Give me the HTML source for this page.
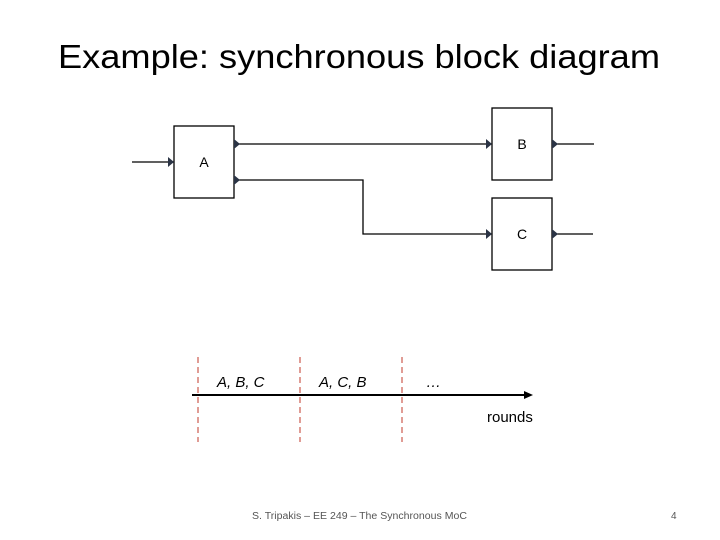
<!DOCTYPE html>
<html><head><meta charset="utf-8"><style>
body{margin:0;width:720px;height:540px;background:#fff;overflow:hidden}
svg{display:block}
text{font-family:"Liberation Sans",sans-serif}
</style></head><body>
<svg width="720" height="540" viewBox="0 0 720 540">
<text x="58" y="68" font-size="33" textLength="602" lengthAdjust="spacingAndGlyphs" fill="#000">Example: synchronous block diagram</text>
<g stroke="#000" stroke-width="1.3" fill="none">
<rect x="174" y="126" width="60" height="72"/>
<rect x="492" y="108" width="60" height="72"/>
<rect x="492" y="198" width="60" height="72"/>
<line x1="132" y1="162" x2="174" y2="162"/>
<line x1="234" y1="144" x2="492" y2="144"/>
<polyline points="234,180 363,180 363,234 492,234"/>
<line x1="552" y1="144" x2="594" y2="144"/>
<line x1="552" y1="234" x2="593" y2="234"/>
</g>
<g fill="#2b3445">
<polygon points="168,157 174,162 168,167"/>
<polygon points="234,139 240,144 234,149"/>
<polygon points="234,175 240,180 234,185"/>
<polygon points="486,139 492,144 486,149"/>
<polygon points="486,229 492,234 486,239"/>
<polygon points="552,139 558,144 552,149"/>
<polygon points="552,229 558,234 552,239"/>
</g>
<g font-size="14" text-anchor="middle" fill="#000">
<text x="204" y="167">A</text><text x="522" y="149">B</text><text x="522" y="239">C</text>
</g>
<g stroke="#c0392b" stroke-width="1" stroke-dasharray="6,4">
<line x1="198" y1="357" x2="198" y2="442"/>
<line x1="300" y1="357" x2="300" y2="442"/>
<line x1="402" y1="357" x2="402" y2="442"/>
</g>
<line x1="192" y1="395" x2="526" y2="395" stroke="#000" stroke-width="2"/>
<polygon points="524,391 533,395 524,399" fill="#000"/>
<g font-size="15" font-style="italic" fill="#000">
<text x="217" y="387">A, B, C</text><text x="319" y="387">A, C, B</text><text x="426" y="387">…</text>
</g>
<text x="487" y="422" font-size="15" fill="#000">rounds</text>
<text x="252" y="519" font-size="10" textLength="215" lengthAdjust="spacingAndGlyphs" fill="#555">S. Tripakis – EE 249 – The Synchronous MoC</text>
<text x="671" y="519" font-size="10" fill="#555">4</text>
</svg>
</body></html>
